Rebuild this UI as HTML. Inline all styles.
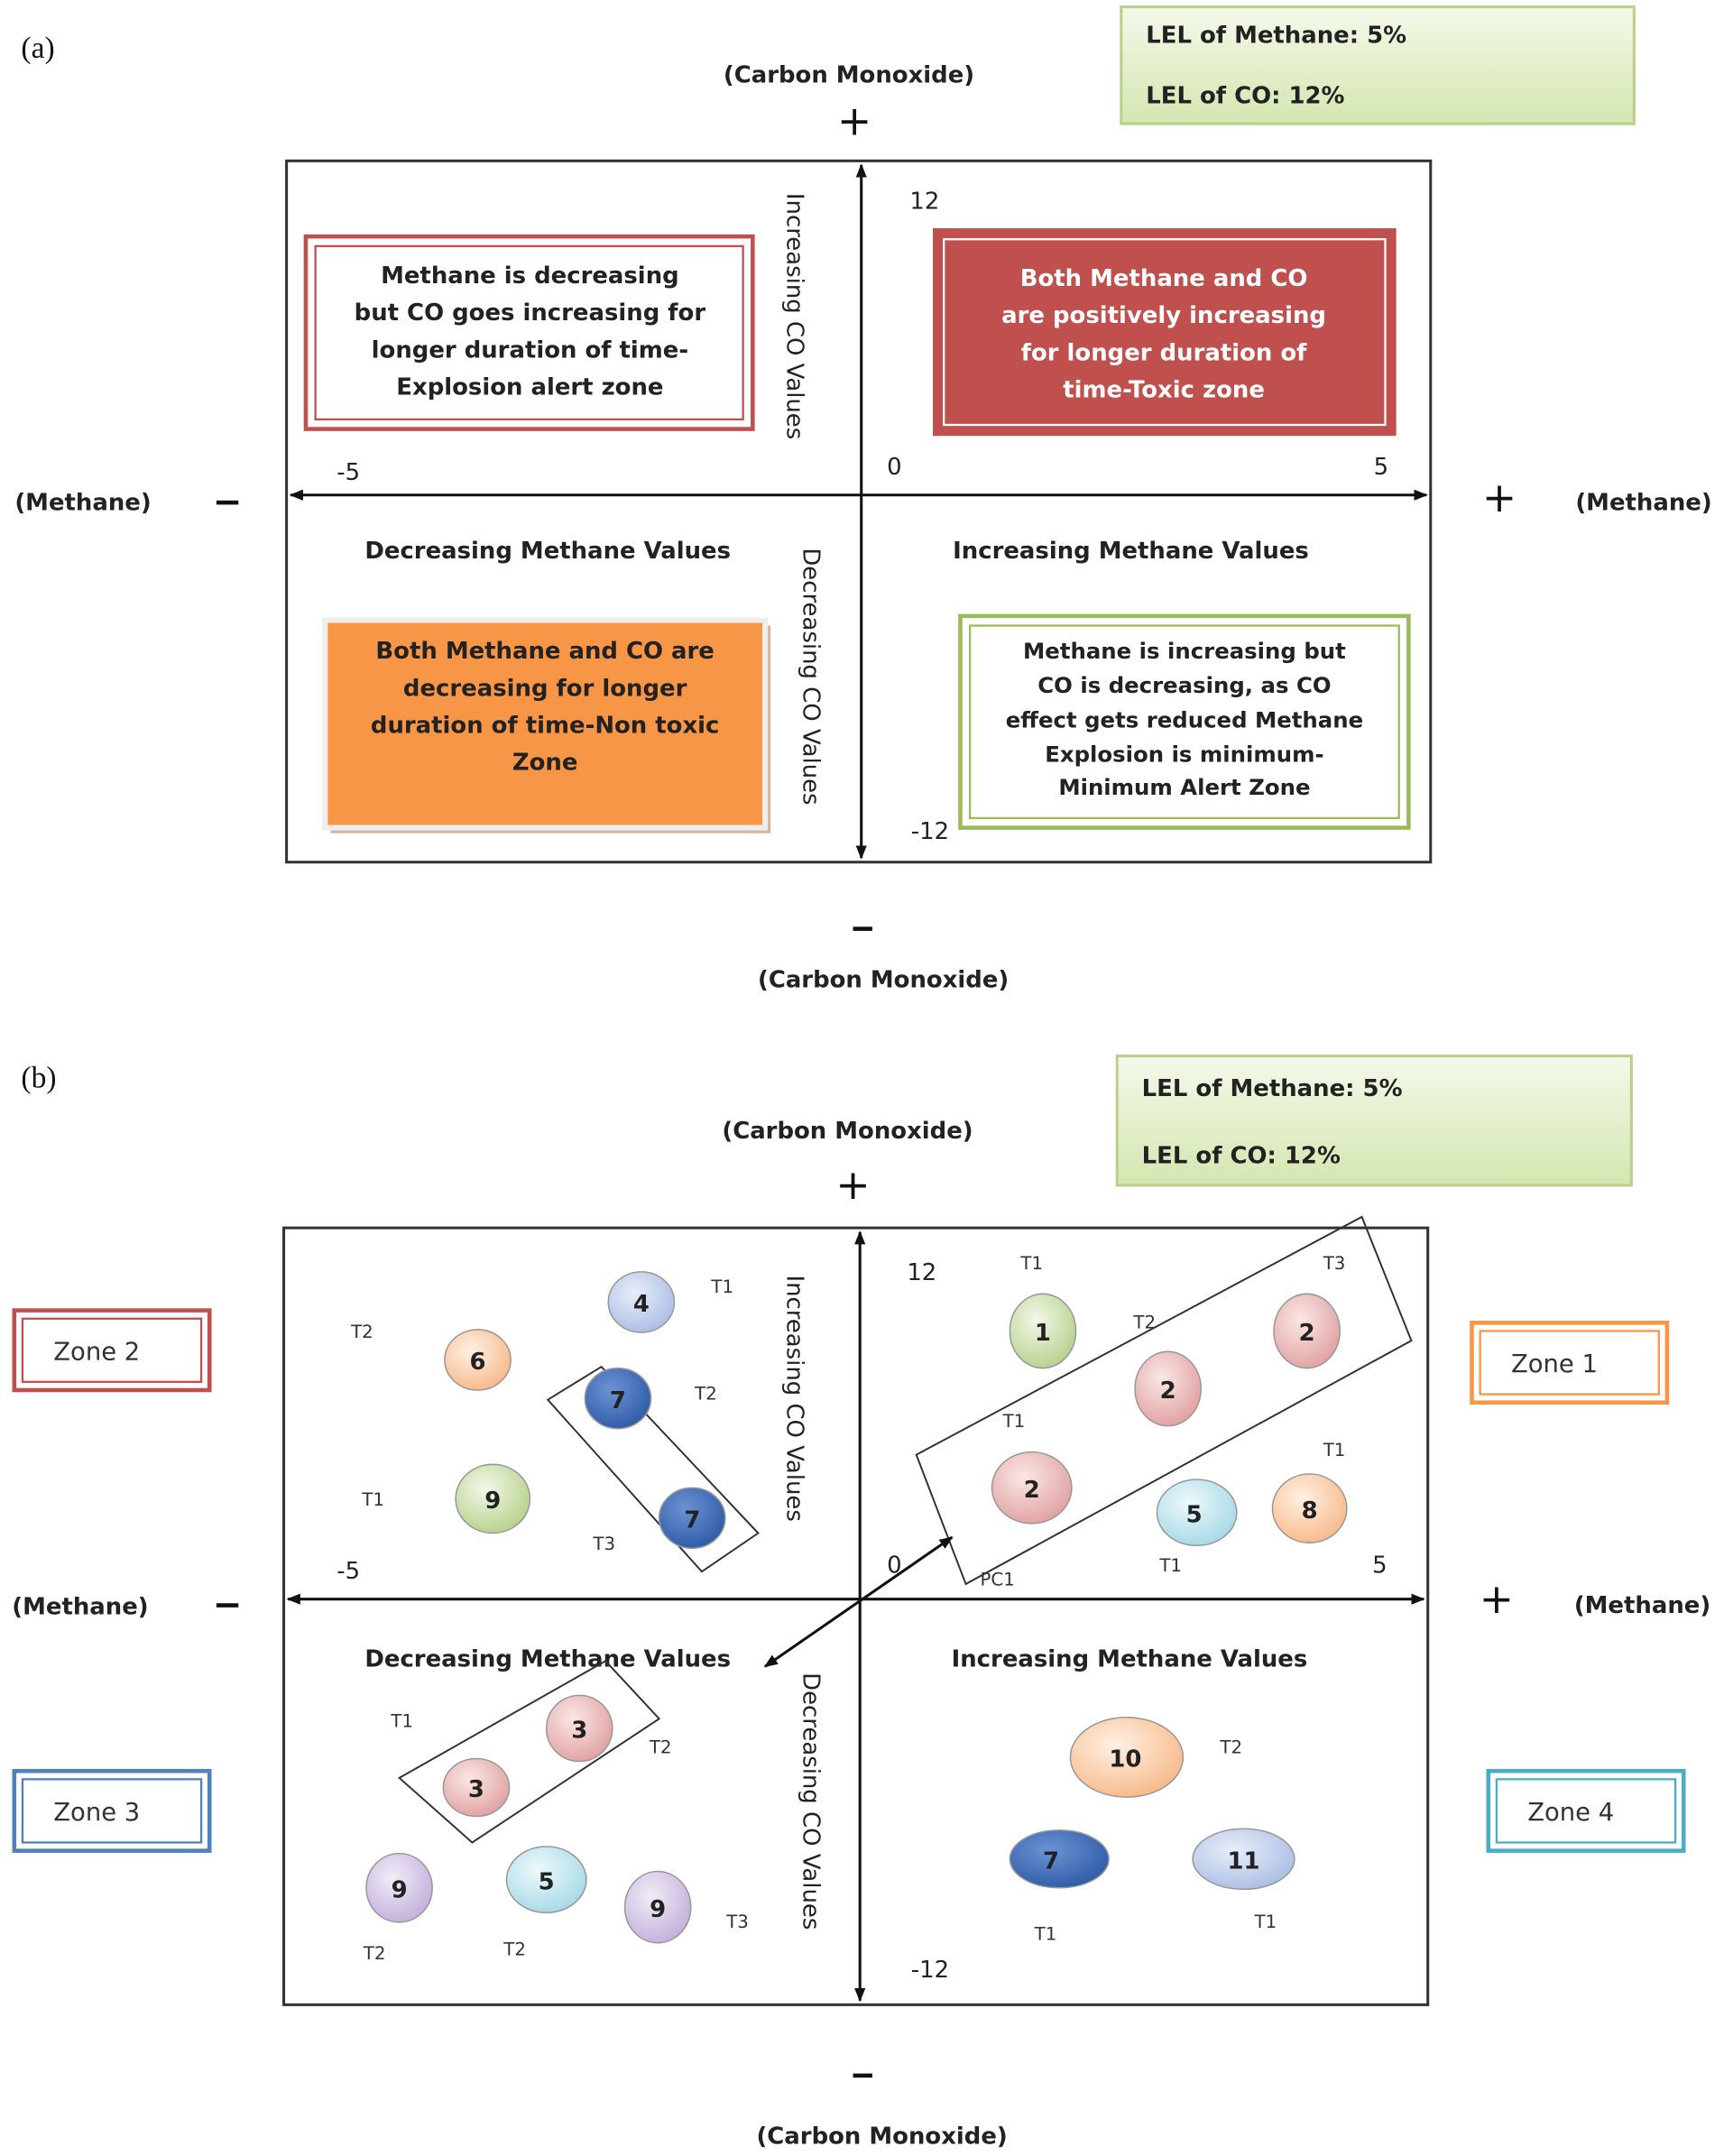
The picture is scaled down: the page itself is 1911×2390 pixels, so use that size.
<!DOCTYPE html>
<html><head><meta charset="utf-8"><style>
html,body{margin:0;padding:0;background:#fff;}
svg{display:block;}
text{font-family:"DejaVu Sans","Liberation Sans",sans-serif;}
.b{font-weight:bold;font-size:17px;fill:#222;}
.s{font-size:13px;fill:#333;}
.n{font-size:17px;fill:#222;}
</style></head><body>
<svg width="1911" height="2390" viewBox="0 0 1253 1568" xmlns="http://www.w3.org/2000/svg">
<defs>
<marker id="ar" markerWidth="10" markerHeight="10" refX="9" refY="5" orient="auto-start-reverse" markerUnits="userSpaceOnUse"><path d="M0,1 L10,5 L0,9 z" fill="#111"/></marker>
<linearGradient id="lg" x1="0" y1="0" x2="0" y2="1"><stop offset="0" stop-color="#f4f9ea"/><stop offset="1" stop-color="#d4e6b0"/></linearGradient>
<radialGradient id="gb" cx="0.4" cy="0.35" r="0.7"><stop offset="0" stop-color="#e8eefa"/><stop offset="1" stop-color="#a9bde3"/></radialGradient>
<radialGradient id="go" cx="0.4" cy="0.35" r="0.7"><stop offset="0" stop-color="#fff1e4"/><stop offset="1" stop-color="#f7b888"/></radialGradient>
<radialGradient id="gd" cx="0.4" cy="0.35" r="0.7"><stop offset="0" stop-color="#6c93d4"/><stop offset="1" stop-color="#2d5aa6"/></radialGradient>
<radialGradient id="gg" cx="0.4" cy="0.35" r="0.7"><stop offset="0" stop-color="#f3f8e8"/><stop offset="1" stop-color="#b5d08a"/></radialGradient>
<radialGradient id="gr" cx="0.4" cy="0.35" r="0.7"><stop offset="0" stop-color="#fbe7e6"/><stop offset="1" stop-color="#e0a0a0"/></radialGradient>
<radialGradient id="gc" cx="0.4" cy="0.35" r="0.7"><stop offset="0" stop-color="#eef9fc"/><stop offset="1" stop-color="#a4d8e6"/></radialGradient>
<radialGradient id="gp" cx="0.4" cy="0.35" r="0.7"><stop offset="0" stop-color="#f2ecf7"/><stop offset="1" stop-color="#c2aedb"/></radialGradient>
</defs>

<!-- (a) -->
<text x="15" y="42" style="font-family:'Liberation Serif',serif;font-size:22px;fill:#111">(a)</text>
<rect x="815" y="5" width="373" height="85" fill="url(#lg)" stroke="#b9d08c" stroke-width="2"/>
<text class="b" x="833" y="31">LEL of Methane: 5%</text>
<text class="b" x="833" y="75">LEL of CO: 12%</text>
<text class="b" x="617" y="60" text-anchor="middle">(Carbon Monoxide)</text>
<text x="621" y="98" font-size="30" text-anchor="middle" fill="#111">+</text>
<rect x="208" y="117" width="832" height="510" fill="none" stroke="#333" stroke-width="2"/>
<line x1="626" y1="624" x2="626" y2="120" stroke="#111" stroke-width="2" marker-end="url(#ar)" marker-start="url(#ar)"/>
<line x1="211" y1="360" x2="1037" y2="360" stroke="#111" stroke-width="2" marker-end="url(#ar)" marker-start="url(#ar)"/>
<text class="n" x="672" y="152" text-anchor="middle">12</text>
<text class="n" x="253" y="349" text-anchor="middle">-5</text>
<text class="n" x="650" y="345" text-anchor="middle">0</text>
<text class="n" x="1004" y="345" text-anchor="middle">5</text>
<text class="n" x="676" y="610" text-anchor="middle">-12</text>
<text class="b" x="60" y="371" text-anchor="middle">(Methane)</text>
<rect x="157" y="364" width="16" height="3" fill="#111"/>
<text x="1090" y="372" font-size="30" text-anchor="middle" fill="#111">+</text>
<text class="b" x="1195" y="371" text-anchor="middle">(Methane)</text>
<text class="n" transform="translate(572,230) rotate(90)" text-anchor="middle">Increasing CO Values</text>
<text class="n" transform="translate(584,492) rotate(90)" text-anchor="middle">Decreasing CO Values</text>
<text class="b" x="398" y="406" text-anchor="middle">Decreasing Methane Values</text>
<text class="b" x="822" y="406" text-anchor="middle">Increasing Methane Values</text>
<rect x="222" y="172" width="325" height="140" fill="#fff" stroke="#c0504d" stroke-width="3"/>
<rect x="229" y="179" width="311" height="126" fill="none" stroke="#c0504d" stroke-width="1.5"/>
<g class="b" text-anchor="middle"><text x="385" y="206">Methane is decreasing</text><text x="385" y="233">but CO goes increasing for</text><text x="385" y="260">longer duration of time-</text><text x="385" y="287">Explosion alert zone</text></g>
<rect x="678" y="166" width="337" height="151" fill="#c0504d"/>
<rect x="686" y="174" width="321" height="135" fill="none" stroke="#fff" stroke-width="1.5"/>
<g class="b" text-anchor="middle" style="fill:#fff"><text x="846" y="208">Both Methane and CO</text><text x="846" y="235">are positively increasing</text><text x="846" y="262">for longer duration of</text><text x="846" y="289">time-Toxic zone</text></g>
<rect x="240" y="455" width="320" height="151" fill="#d9b49a"/>
<rect x="236" y="451" width="320" height="151" fill="#f79646" stroke="#eee" stroke-width="4"/>
<g class="b" text-anchor="middle"><text x="396" y="479">Both Methane and CO are</text><text x="396" y="506">decreasing for longer</text><text x="396" y="533">duration of time-Non toxic</text><text x="396" y="560">Zone</text></g>
<rect x="698" y="448" width="326" height="154" fill="#fff" stroke="#9bbb59" stroke-width="3"/>
<rect x="705" y="455" width="312" height="140" fill="none" stroke="#9bbb59" stroke-width="1.5"/>
<g class="b" text-anchor="middle" style="font-size:16px"><text x="861" y="479">Methane is increasing but</text><text x="861" y="504">CO is decreasing, as CO</text><text x="861" y="529">effect gets reduced Methane</text><text x="861" y="554">Explosion is minimum-</text><text x="861" y="578">Minimum Alert Zone</text></g>
<rect x="620" y="674" width="14" height="3" fill="#111"/>
<text class="b" x="642" y="718" text-anchor="middle">(Carbon Monoxide)</text>

<!-- (b) -->
<text x="15" y="791" style="font-family:'Liberation Serif',serif;font-size:22px;fill:#111">(b)</text>
<rect x="812" y="768" width="374" height="94" fill="url(#lg)" stroke="#b9d08c" stroke-width="2"/>
<text class="b" x="830" y="797">LEL of Methane: 5%</text>
<text class="b" x="830" y="846">LEL of CO: 12%</text>
<text class="b" x="616" y="828" text-anchor="middle">(Carbon Monoxide)</text>
<text x="620" y="872" font-size="30" text-anchor="middle" fill="#111">+</text>
<rect x="206" y="893" width="832" height="565" fill="none" stroke="#333" stroke-width="2"/>
<line x1="625" y1="1455" x2="625" y2="896" stroke="#111" stroke-width="2" marker-end="url(#ar)" marker-start="url(#ar)"/>
<line x1="209" y1="1163" x2="1035" y2="1163" stroke="#111" stroke-width="2" marker-end="url(#ar)" marker-start="url(#ar)"/>
<text class="b" x="58" y="1174" text-anchor="middle">(Methane)</text>
<rect x="157" y="1166" width="16" height="3" fill="#111"/>
<text x="1088" y="1173" font-size="30" text-anchor="middle" fill="#111">+</text>
<text class="b" x="1194" y="1173" text-anchor="middle">(Methane)</text>
<text class="n" transform="translate(572,1017) rotate(90)" text-anchor="middle">Increasing CO Values</text>
<text class="n" transform="translate(584,1310) rotate(90)" text-anchor="middle">Decreasing CO Values</text>
<text class="b" x="398" y="1212" text-anchor="middle">Decreasing Methane Values</text>
<text class="b" x="821" y="1212" text-anchor="middle">Increasing Methane Values</text>
<text class="n" x="670" y="931" text-anchor="middle">12</text>
<text class="n" x="253" y="1148" text-anchor="middle">-5</text>
<text class="n" x="650" y="1144" text-anchor="middle">0</text>
<text class="n" x="1003" y="1144" text-anchor="middle">5</text>
<text class="n" x="676" y="1438" text-anchor="middle">-12</text>
<rect x="620" y="1508" width="14" height="3" fill="#111"/>
<text class="b" x="641" y="1559" text-anchor="middle">(Carbon Monoxide)</text>

<!-- zones -->
<g font-size="18" fill="#333" text-anchor="middle">
<rect x="10" y="953" width="142" height="58" fill="#fff" stroke="#c0504d" stroke-width="3"/><rect x="16" y="959" width="130" height="46" fill="none" stroke="#c0504d" stroke-width="1.5"/><text x="70" y="989">Zone 2</text>
<rect x="10" y="1288" width="142" height="58" fill="#fff" stroke="#4f81bd" stroke-width="3"/><rect x="16" y="1294" width="130" height="46" fill="none" stroke="#4f81bd" stroke-width="1.5"/><text x="70" y="1324">Zone 3</text>
<rect x="1070" y="962" width="142" height="58" fill="#fff" stroke="#f79646" stroke-width="3"/><rect x="1076" y="968" width="130" height="46" fill="none" stroke="#f79646" stroke-width="1.5"/><text x="1130" y="998">Zone 1</text>
<rect x="1082" y="1288" width="142" height="58" fill="#fff" stroke="#4bacc6" stroke-width="3"/><rect x="1088" y="1294" width="130" height="46" fill="none" stroke="#4bacc6" stroke-width="1.5"/><text x="1142" y="1324">Zone 4</text>
</g>

<g fill="none" stroke="#333" stroke-width="1.3">
<polygon points="398,1018 437,994 551,1115 510,1143"/>
<polygon points="666,1058 990,885 1026,975 702,1152"/>
<polygon points="290,1293 440,1208 479,1250 343,1340"/>
</g>
<line x1="692" y1="1118" x2="556" y2="1212" stroke="#111" stroke-width="2" marker-end="url(#ar)" marker-start="url(#ar)"/>

<g stroke="#999" stroke-width="1">
<ellipse cx="466" cy="947" rx="24" ry="22" fill="url(#gb)"/>
<ellipse cx="347" cy="989" rx="24" ry="22" fill="url(#go)"/>
<ellipse cx="449" cy="1017" rx="24" ry="22" fill="url(#gd)"/>
<ellipse cx="503" cy="1104" rx="24" ry="22" fill="url(#gd)"/>
<ellipse cx="358" cy="1090" rx="27" ry="25" fill="url(#gg)"/>
<ellipse cx="758" cy="968" rx="24" ry="27" fill="url(#gg)"/>
<ellipse cx="849" cy="1010" rx="24" ry="27" fill="url(#gr)"/>
<ellipse cx="950" cy="968" rx="24" ry="27" fill="url(#gr)"/>
<ellipse cx="750" cy="1082" rx="29" ry="26" fill="url(#gr)"/>
<ellipse cx="870" cy="1100" rx="29" ry="24" fill="url(#gc)"/>
<ellipse cx="952" cy="1097" rx="27" ry="25" fill="url(#go)"/>
<ellipse cx="421" cy="1257" rx="24" ry="24" fill="url(#gr)"/>
<ellipse cx="346" cy="1300" rx="24" ry="21" fill="url(#gr)"/>
<ellipse cx="290" cy="1373" rx="24" ry="25" fill="url(#gp)"/>
<ellipse cx="397" cy="1367" rx="29" ry="24" fill="url(#gc)"/>
<ellipse cx="478" cy="1387" rx="24" ry="26" fill="url(#gp)"/>
<ellipse cx="819" cy="1278" rx="41" ry="29" fill="url(#go)"/>
<ellipse cx="770" cy="1352" rx="36" ry="21" fill="url(#gd)"/>
<ellipse cx="904" cy="1352" rx="37" ry="22" fill="url(#gb)"/>
</g>
<g font-size="17" fill="#222" text-anchor="middle" font-weight="bold">
<text x="466" y="954">4</text><text x="347" y="996">6</text><text x="449" y="1024">7</text><text x="503" y="1111">7</text><text x="358" y="1097">9</text>
<text x="758" y="975">1</text><text x="849" y="1017">2</text><text x="950" y="975">2</text><text x="750" y="1089">2</text><text x="868" y="1107">5</text><text x="952" y="1104">8</text>
<text x="421" y="1264">3</text><text x="346" y="1307">3</text><text x="290" y="1380">9</text><text x="397" y="1374">5</text><text x="478" y="1394">9</text>
<text x="818" y="1285">10</text><text x="764" y="1359">7</text><text x="904" y="1359">11</text>
</g>
<g class="s" text-anchor="middle" style="font-family:'Liberation Serif',serif">
<text x="525" y="940">T1</text><text x="263" y="973">T2</text><text x="513" y="1018">T2</text><text x="271" y="1095">T1</text><text x="439" y="1127">T3</text>
<text x="750" y="923">T1</text><text x="970" y="923">T3</text><text x="832" y="966">T2</text><text x="737" y="1038">T1</text><text x="970" y="1059">T1</text><text x="851" y="1143">T1</text><text x="725" y="1153">PC1</text>
<text x="292" y="1256">T1</text><text x="480" y="1275">T2</text><text x="272" y="1425">T2</text><text x="374" y="1422">T2</text><text x="536" y="1402">T3</text>
<text x="895" y="1275">T2</text><text x="760" y="1411">T1</text><text x="920" y="1402">T1</text>
</g>
</svg>
</body></html>
